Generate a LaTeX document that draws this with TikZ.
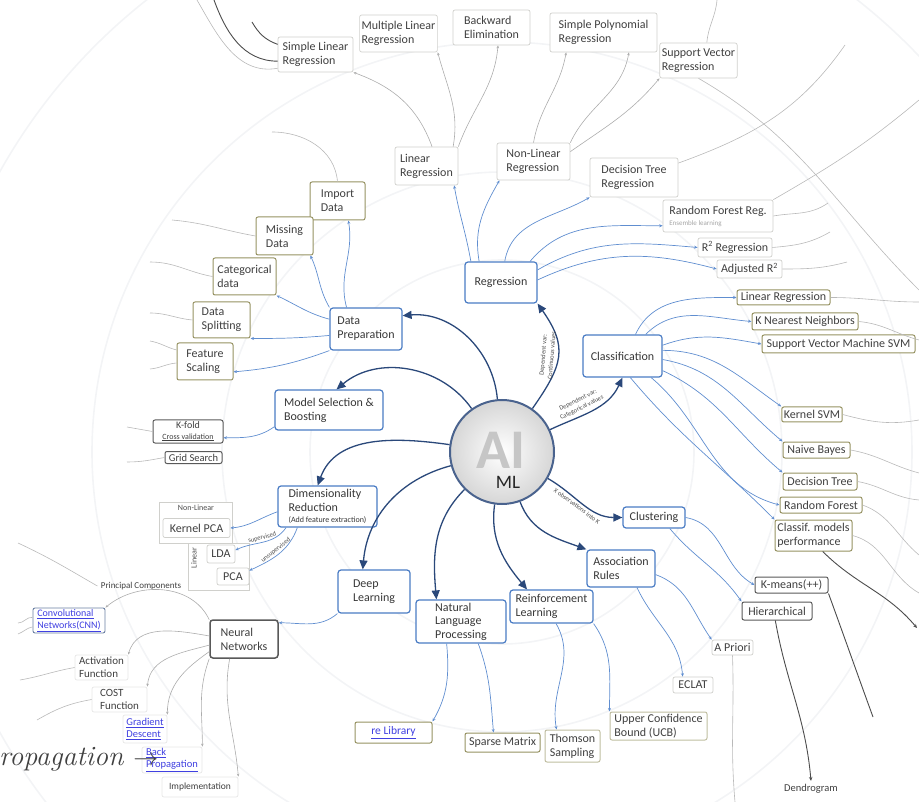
\documentclass[tikz,border=0pt]{standalone}
\usepackage{fontspec}
\newfontfamily\carlito{Carlito}
\usepackage{tikz}
\usetikzlibrary{arrows.meta, positioning, calc}
\definecolor{topicblue}{RGB}{74,124,196}
\definecolor{linkblue}{RGB}{96,142,208}
\definecolor{hubblue}{RGB}{42,72,122}
\definecolor{leafolive}{RGB}{150,146,98}
\definecolor{leafgray}{RGB}{208,208,204}
\definecolor{webblue}{RGB}{64,64,225}
\definecolor{ringgray}{RGB}{243,244,246}
\tikzset{
  topic/.style={draw=topicblue, line width=1.2pt, rounded corners=3pt, fill=white,
    inner xsep=3pt, inner ysep=1pt, align=left, text=black!78,
    font=\carlito\fontsize{12}{14}\selectfont},
  leaf/.style={draw=leafgray, line width=0.7pt, rounded corners=2pt, fill=white,
    inner xsep=2pt, inner ysep=1pt, align=left, text=black!75,
    font=\carlito\fontsize{12}{14}\selectfont},
  oleaf/.style={leaf, draw=leafolive, line width=1pt},
  dleaf/.style={leaf, draw=black!65, line width=1pt},
  wh/.style 2 args={minimum width=#1, minimum height=#2},
  hub/.style={circle, draw=hubblue!85, line width=2pt, inner color=white,
    outer color=gray!32, minimum size=104pt},
  mainlink/.style={draw=hubblue, line width=1.3pt, -{Triangle[length=9pt,width=8pt]}},
  sublink/.style={draw=linkblue, line width=0.7pt, -{Stealth[length=3.5pt,width=3pt]}},
  graylink/.style={draw=gray!65, line width=0.6pt, -{Stealth[length=3pt,width=2.5pt]}},
  tail/.style={draw=gray!55, line width=0.6pt},
  darktail/.style={draw=black!70, line width=0.9pt},
  darklink/.style={darktail, -{Stealth[length=4pt,width=3.5pt]}},
  ring/.style={draw=ringgray, line width=1.6pt},
  tag/.style={font=\carlito\fontsize{6.5}{8.5}\selectfont, text=black!70, align=center, inner sep=0.5pt},
  weblink/.style={text=webblue},
}
\begin{document}
\begin{tikzpicture}[x=1pt, y=-1pt]
  \useasboundingbox (0,0) rectangle (919,802);
  \foreach \r in {192,280,410,575}
    \draw[ring] (502,452) circle[radius=\r];

  \node[hub] (AIML) at (502,452) {};
  \node[font=\carlito\bfseries\fontsize{56}{56}\selectfont, text=gray!45] (AI) at (501,450) {AI};
  \node[font=\carlito\fontsize{19}{19}\selectfont, text=black!85] (ML) at (508,482) {ML};

  \node[topic, wh={72pt}{41pt}] (REG) at (501,282.5) {Regression};
  \node[topic, wh={79pt}{42pt}] (CLASS) at (622.5,356) {Classification};
  \node[topic, wh={72pt}{42pt}] (DATAPREP) at (366,329) {Data\\Preparation};
  \node[topic, wh={108pt}{40pt}] (MODSEL) at (329,410) {Model Selection \&\\Boosting};
  \node[topic, wh={99pt}{41pt}] (DIMRED) at (327.5,506.5) {Dimensionality\\Reduction\\[-3pt]{\fontsize{8}{9}\selectfont (Add feature extraction)}};
  \node[topic, wh={72pt}{43pt}] (DEEP) at (374,591.5) {Deep\\Learning};
  \node[topic, wh={90pt}{43pt}, font=\carlito\fontsize{12}{13.5}\selectfont] (NLP) at (461,621.5) {Natural\\Language\\Processing};
  \node[topic, wh={83pt}{33pt}] (RL) at (551.5,606.5) {Reinforcement\\Learning};
  \node[topic, wh={68pt}{37pt}] (ASSOC) at (621,568.5) {Association\\Rules};
  \node[topic, wh={62pt}{21pt}] (CLUST) at (654,517.5) {Clustering};

  \node[leaf, wh={63pt}{38pt}] (LINREG) at (426.5,166) {Linear\\Regression};
  \node[leaf, wh={73pt}{37pt}] (NONLIN) at (533.5,161.5) {Non-Linear\\Regression};
  \node[leaf, wh={88pt}{39pt}] (DTREG) at (634,177.5) {Decision Tree\\Regression};
  \node[leaf, wh={110pt}{32pt}] (RFREG) at (718,216) {Random Forest Reg.\\[-3pt]{\fontsize{7}{8}\selectfont\color{gray!70}Ensemble learning}};
  \node[leaf, wh={74pt}{19pt}] (RSQ) at (735,247.5) {R\textsuperscript{2} Regression};
  \node[leaf, wh={65pt}{18pt}] (ADJRSQ) at (749.5,269) {Adjusted R\textsuperscript{2}};

  \node[leaf, wh={75pt}{35pt}] (SLR) at (315.5,54.5) {Simple Linear\\Regression};
  \node[leaf, wh={77pt}{37pt}] (MLR) at (398.5,33.5) {Multiple Linear\\Regression};
  \node[leaf, wh={77pt}{35pt}] (BACKELIM) at (491.5,27.5) {Backward\\Elimination};
  \node[leaf, wh={107pt}{39pt}] (SPR) at (603.5,32.5) {Simple Polynomial\\Regression};
  \node[leaf, wh={77pt}{35pt}] (SVR) at (698.5,60.5) {Support Vector\\Regression};

  \node[oleaf, wh={93pt}{15pt}] (CLINREG) at (783.5,297.5) {Linear Regression};
  \node[oleaf, wh={106pt}{17pt}] (KNN) at (805,321.5) {K Nearest Neighbors};
  \node[oleaf, wh={153pt}{18pt}] (SVMN) at (838.5,344) {Support Vector Machine SVM};
  \node[oleaf, wh={60pt}{15pt}] (KSVM) at (812,414.5) {Kernel SVM};
  \node[oleaf, wh={67pt}{16pt}] (NBAYES) at (816.5,450) {Naive Bayes};
  \node[oleaf, wh={74pt}{17pt}] (CDTREE) at (820,481.5) {Decision Tree};
  \node[oleaf, wh={82pt}{16pt}] (CRFOR) at (821,505) {Random Forest};
  \node[oleaf, wh={77pt}{31pt}] (CPERF) at (813.5,535.5) {Classif. models\\performance};

  \node[dleaf, wh={73pt}{16pt}] (KMEANS) at (791.5,585) {K-means(++)};
  \node[dleaf, wh={70pt}{18pt}] (HIER) at (777,611) {Hierarchical};
  \node[font=\carlito\fontsize{10.5}{12}\selectfont, text=black!75] (DENDRO) at (811,789) {Dendrogram};

  \node[leaf, wh={41pt}{15pt}] (APRIORI) at (732.5,647.5) {A Priori};
  \node[leaf, wh={40pt}{16pt}] (ECLAT) at (693,685) {ECLAT};
  \node[oleaf, draw=leafolive!60, wh={97pt}{28pt}] (UCB) at (658.5,726) {Upper Confidence\\Bound (UCB)};
  \node[oleaf, draw=leafolive!60, wh={55pt}{32pt}] (THOMSON) at (572.5,746) {Thomson\\Sampling};
  \node[oleaf, wh={75pt}{19pt}] (SPARSE) at (502.5,742.5) {Sparse Matrix};
  \node[oleaf, wh={77pt}{21pt}, weblink, font=\carlito\fontsize{11.5}{13}\selectfont] (RELIB) at (393.5,732.5) {\underline{re Library}};

  \node[oleaf, wh={55pt}{38pt}] (IMPORT) at (337.5,201) {Import\\Data};
  \node[oleaf, wh={57pt}{38pt}] (MISSING) at (284.5,236) {Missing\\Data};
  \node[oleaf, wh={63pt}{37pt}] (CATEG) at (244.5,276.5) {Categorical\\data};
  \node[oleaf, wh={57pt}{36pt}] (SPLIT) at (221.5,320) {Data\\Splitting};
  \node[oleaf, wh={56pt}{37pt}] (FEAT) at (205,361.5) {Feature\\Scaling};

  \node[dleaf, wh={70pt}{23pt}, align=center, inner ysep=0pt, font=\carlito\fontsize{10}{10.5}\selectfont] (KFOLD) at (188,431.5) {K-fold\\{\fontsize{8}{9}\selectfont\underline{Cross validation}}};
  \node[dleaf, wh={57pt}{12pt}, inner ysep=0pt, font=\carlito\fontsize{10.5}{11}\selectfont] (GRID) at (193.5,457.5) {Grid Search};

  \node[draw=leafgray, line width=0.7pt, fill=white, wh={73pt}{41pt}] (NLGROUP) at (195.5,522.5) {};
  \node[font=\carlito\fontsize{8}{9}\selectfont, text=black!70] (NLTAG) at (196,508) {Non-Linear};
  \node[leaf, wh={67pt}{19pt}] (KPCA) at (196.5,528) {Kernel PCA};
  \node[draw=leafgray, line width=0.7pt, fill=white, wh={61pt}{47pt}] (LGROUP) at (218.5,566.5) {};
  \node[font=\carlito\fontsize{8}{9}\selectfont, text=black!70, rotate=90] (LTAG) at (194,558) {Linear};
  \node[leaf, wh={28pt}{18pt}] (LDA) at (221,554) {LDA};
  \node[leaf, wh={32pt}{17pt}] (PCA) at (233,576.5) {PCA};
  \node[font=\carlito\fontsize{9}{10}\selectfont, text=black!75] (PRINC) at (141,586) {Principal Components};

  \node[dleaf, line width=1.5pt, rounded corners=3pt, wh={68pt}{38pt}] (NN) at (244,639) {Neural\\Networks};
  \node[leaf, draw=hubblue!70, line width=0.9pt, wh={72pt}{25pt}, weblink, font=\carlito\fontsize{10}{12}\selectfont] (CNN) at (69,620.5) {\underline{Convolutional}\\\underline{Networks(CNN)}};
  \node[leaf, draw=leafgray!50, wh={53pt}{25pt}, font=\carlito\fontsize{11}{13}\selectfont] (ACT) at (101.5,667.5) {Activation\\Function};
  \node[leaf, draw=leafgray!50, wh={55pt}{25pt}, font=\carlito\fontsize{11}{13}\selectfont] (COST) at (119.5,699.5) {COST\\Function};
  \node[leaf, draw=leafgray!50, wh={44pt}{28pt}, weblink, font=\carlito\fontsize{10.5}{12}\selectfont] (GRAD) at (145,729) {\underline{Gradient}\\\underline{Descent}};
  \node[leaf, draw=leafgray!50, wh={60pt}{26pt}, weblink, font=\carlito\fontsize{10.5}{12}\selectfont] (BACKP) at (172,760) {\underline{Back}\\\underline{Propagation}};
  \node[leaf, draw=leafgray!50, wh={76pt}{20pt}, font=\carlito\fontsize{9.5}{11}\selectfont] (IMPL) at (200,787) {Implementation};
  \node[anchor=base west, inner sep=0pt, font=\fontsize{28}{28}\selectfont, text=black!75] (PROPTXT) at (-1,765) {\itshape ropagation $\rightarrow$};

  \path (AIML) edge[mainlink, out=55, in=-55, looseness=1.3] node[tag, sloped, above=3pt, pos=0.5]{Dependent var:\\Continuous values} (REG.south east)
        (AIML) edge[mainlink, out=25, in=-115] node[tag, sloped, above=3pt, pos=0.4]{Dependent var:\\Categorical values} (CLASS.south)
        (AIML) edge[mainlink, out=95, in=5] (DATAPREP.20)
        (AIML) edge[mainlink, out=125, in=40] (MODSEL.70)
        (AIML) edge[mainlink, out=172, in=70] (DIMRED.115)
        (AIML) edge[mainlink, out=195, in=85] (DEEP.117)
        (AIML) edge[mainlink, out=225, in=95] (NLP.138)
        (AIML) edge[mainlink, out=262, in=130] (RL.145)
        (AIML) edge[mainlink, out=290, in=160] (ASSOC.north west)
        (AIML) edge[mainlink, out=-30, in=180] node[tag, sloped, below=2pt, pos=0.45]{X observations into K} (CLUST.west);

  \path (REG.145) edge[sublink, out=100, in=-80] (LINREG.-35)
        (REG.136) edge[sublink, out=100, in=-120] (NONLIN.-151)
        (REG.80) edge[sublink, out=80, in=-150] (DTREG.south west)
        (REG.36) edge[sublink, out=50, in=180] (RFREG.-170)
        (REG.19) edge[sublink, out=30, in=175] (RSQ.west)
        (REG.4) edge[sublink, out=25, in=165] (ADJRSQ.west);

  \path (LINREG.74) edge[graylink, out=110, in=-20] (SLR.south east)
        (LINREG.36) edge[graylink, out=80, in=-75] (MLR.south east)
        (LINREG.north east) edge[graylink, out=70, in=-95] (BACKELIM.-70)
        (NONLIN.north) edge[graylink, out=80, in=-100] (SPR.-152)
        (NONLIN.north east) edge[graylink, out=65, in=-100] (SPR.-38)
        (NONLIN.15) edge[graylink, out=35, in=-130] (SVR.south west);

  \path (CLASS.59) edge[sublink, out=65, in=180] (CLINREG.west)
        (CLASS.43) edge[sublink, out=45, in=175] (KNN.west)
        (CLASS.15) edge[sublink, out=20, in=170] (SVMN.west)
        (CLASS.8) edge[sublink, out=0, in=145] (KSVM.north west)
        (CLASS.-5) edge[sublink, out=-10, in=140] (NBAYES.north west)
        (CLASS.-20) edge[sublink, out=-25, in=140] (CDTREE.north west)
        (CLASS.-37) edge[sublink, out=-40, in=165] (CRFOR.west)
        (CLASS.-70) edge[sublink, out=-50, in=135] (CPERF.north west);

  \path (CLUST.east) edge[sublink, out=-10, in=150] (KMEANS.west)
        (CLUST.-35) edge[sublink, out=-50, in=125] (HIER.north west)
        (HIER.-100) edge[darklink, out=-80, in=95] (DENDRO.north)
        (ASSOC.-10) edge[sublink, out=-20, in=125] (APRIORI.north west)
        (ASSOC.-50) edge[sublink, out=-65, in=95] (ECLAT.141)
        (RL.south east) edge[sublink, out=-55, in=90] (UCB.north west)
        (RL.-75) edge[sublink, out=-60, in=100] (THOMSON.134)
        (NLP.-52) edge[sublink, out=-70, in=95] (SPARSE.132)
        (NLP.-123) edge[sublink, out=-85, in=60] (RELIB.north east);

  \path (DEEP.south west) edge[sublink, out=-140, in=0] (NN.25)
        (NN.151) edge[graylink, out=115, in=40] (CNN.north east)
        (NN.175) edge[graylink, out=170, in=75] (ACT.north east)
        (NN.190) edge[graylink, out=195, in=85] (COST.north east)
        (NN.200) edge[graylink, out=215, in=90] (GRAD.north east)
        (NN.south west) edge[graylink, out=-110, in=90] (BACKP.north east)
        (NN.234) edge[graylink, out=-100, in=95] (IMPL.north east);

  \path (DIMRED.186) edge[sublink, out=200, in=5] (KPCA.east)
        (DIMRED.207) edge[sublink, out=235, in=25] node[tag, sloped, above=1pt]{supervised} (LDA.15)
        (DIMRED.215) edge[sublink, out=250, in=25] node[tag, sloped, above=1pt]{unsupervised} (PCA.20)
        (MODSEL.197) edge[sublink, out=215, in=0] (KFOLD.-10);

  \path (DATAPREP.132) edge[sublink, out=105, in=-80] (IMPORT.-61)
        (DATAPREP.north west) edge[sublink, out=120, in=-65] (MISSING.-37)
        (DATAPREP.165) edge[sublink, out=165, in=-25] (CATEG.south east)
        (DATAPREP.190) edge[sublink, out=185, in=0] (SPLIT.south east)
        (DATAPREP.south west) edge[sublink, out=200, in=5] (FEAT.-20);

  \coordinate (SLRA) at (197,0);
  \coordinate (SLRB) at (214,0);
  \coordinate (SLRC) at (252,22);
  \coordinate (IMPT) at (272,132);
  \coordinate (MISST) at (172,220);
  \coordinate (CATT) at (150,262);
  \coordinate (SPLT) at (150,313);
  \coordinate (FEATA) at (150,341);
  \coordinate (FEATB) at (150,369);
  \coordinate (KFT) at (127,427);
  \coordinate (GRIDT) at (127,462);
  \coordinate (PRINCT) at (18,543);
  \coordinate (ACTT) at (20,680);
  \coordinate (COSTT) at (37,720);
  \coordinate (CNNA) at (18,623);
  \coordinate (CNNB) at (18,634);
  \coordinate (DTT) at (845,45);
  \coordinate (RFT) at (919,100);
  \coordinate (SVRT) at (919,290);
  \coordinate (SVRU) at (717,0);
  \coordinate (RFS) at (828,203);
  \coordinate (RSQT) at (830,232);
  \coordinate (ADJT) at (847,262);
  \coordinate (CLRT) at (919,302);
  \coordinate (KNNT) at (919,340);
  \coordinate (KSVT) at (919,420);
  \coordinate (NBT) at (919,473);
  \coordinate (CDTT) at (919,500);
  \coordinate (CRFT) at (919,555);
  \coordinate (CPFT) at (919,593);
  \coordinate (CPFD) at (917,628);
  \coordinate (KMT) at (873,717);
  \coordinate (APRT) at (735,802);

  \path (SLR.200) edge[tail, out=190, in=-60] (SLRA)
        (SLR.190) edge[darktail, out=180, in=-70] (SLRB)
        (SLR.165) edge[darktail, out=160, in=-60] (SLRC)
        (SVR.65) edge[tail, out=85, in=-95] (SVRU)
        (SVR.south) edge[tail, out=-30, in=135] (SVRT)
        (DTREG.18) edge[tail, out=20, in=-125] (DTT)
        (RFREG.north east) edge[tail, out=30, in=-140] (RFT)
        (RFREG.east) edge[tail, out=10, in=-145] (RFS)
        (RSQ.east) edge[tail, out=5, in=-150] (RSQT)
        (ADJRSQ.east) edge[tail, out=0, in=-165] (ADJT)
        (CLINREG.east) edge[tail, out=0, in=180] (CLRT)
        (KNN.east) edge[tail, out=-5, in=165] (KNNT)
        (KSVM.east) edge[tail, out=-15, in=190] (KSVT)
        (NBAYES.east) edge[tail, out=-10, in=165] (NBT)
        (CDTREE.east) edge[tail, out=-10, in=175] (CDTT)
        (CRFOR.east) edge[tail, out=-20, in=140] (CRFT)
        (CPERF.east) edge[tail, out=-15, in=150] (CPFT)
        (CPERF.-60) edge[darklink, out=-45, in=130] (CPFD)
        (KMEANS.south east) edge[darktail, out=-70, in=110] (KMT)
        (APRIORI.south) edge[tail, out=-88, in=95] (APRT);

  \path (IMPORT.north) edge[tail, out=95, in=0] (IMPT)
        (MISSING.west) edge[tail, out=170, in=-5] (MISST)
        (CATEG.west) edge[tail, out=170, in=0] (CATT)
        (SPLIT.west) edge[tail, out=175, in=0] (SPLT)
        (FEAT.158) edge[tail, out=165, in=-10] (FEATA)
        (FEAT.183) edge[tail, out=185, in=5] (FEATB)
        (KFOLD.west) edge[tail, out=170, in=-10] (KFT)
        (GRID.west) edge[tail, out=190, in=0] (GRIDT)
        (PRINC.west) edge[tail, out=150, in=-25] (PRINCT)
        (ACT.west) edge[tail, out=190, in=10] (ACTT)
        (COST.west) edge[tail, out=190, in=30] (COSTT)
        (CNN.175) edge[tail, out=175, in=0] (CNNA)
        (CNN.190) edge[tail, out=190, in=20] (CNNB);
\end{tikzpicture}
\end{document}
